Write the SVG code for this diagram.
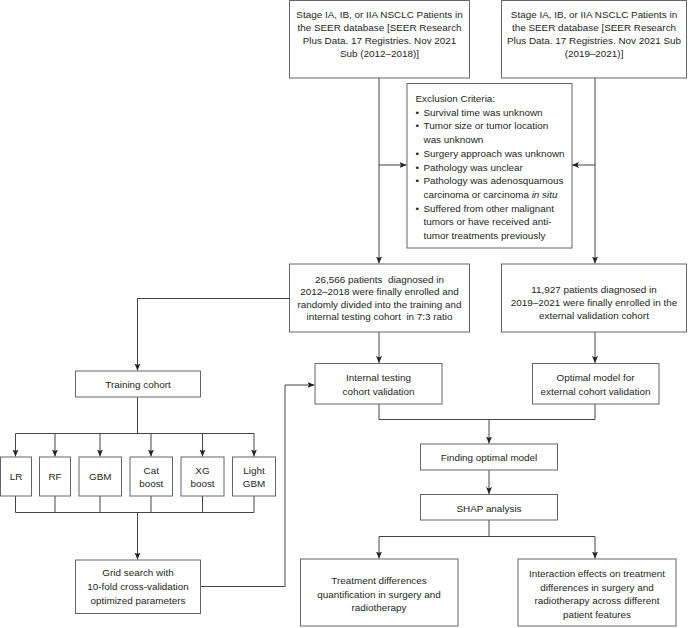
<svg xmlns="http://www.w3.org/2000/svg" width="690" height="628" viewBox="0 0 690 628">
<defs>
<marker id="ah" markerUnits="userSpaceOnUse" markerWidth="8" markerHeight="8" refX="7" refY="3" orient="auto">
<path d="M0,0 L7,3 L0,6 L1.5,3 z" fill="#222"/>
</marker>
<style>
rect{fill:#fff;stroke:#666;stroke-width:1}
text{font-family:"Liberation Sans",Arial,sans-serif;font-size:9.9px;fill:#231f20;white-space:pre}
.c{text-anchor:middle}
#connectors path{fill:none;stroke:#444;stroke-width:1}
.a{marker-end:url(#ah)}
</style>
</defs>
<rect x="0" y="0" width="690" height="628" style="fill:#fff;stroke:none"/>
<g id="connectors">
<path class="a" d="M379,78 V263.5"/>
<path class="a" d="M595,78 V263.5"/>
<path class="a" d="M379,165 H406.5"/>
<path class="a" d="M595,165 H572"/>
<path class="a" d="M289,298.5 H137.5 V370.5"/>
<path class="a" d="M379,332 V363"/>
<path class="a" d="M595,332 V363"/>
<path d="M379,404 V419.5 H595 V404"/>
<path class="a" d="M489,419.5 V443.5"/>
<path class="a" d="M489,470 V494"/>
<path d="M489,520 V536.5 M379,536.5 H595"/>
<path class="a" d="M379,536.5 V558.5"/>
<path class="a" d="M595,536.5 V558.5"/>
<path d="M137.5,397 V433.5 M15.5,433.5 H254"/>
<path class="a" d="M15.5,433.5 V456.5"/>
<path class="a" d="M55,433.5 V456.5"/>
<path class="a" d="M100,433.5 V456.5"/>
<path class="a" d="M151,433.5 V456.5"/>
<path class="a" d="M202.5,433.5 V456.5"/>
<path class="a" d="M254,433.5 V456.5"/>
<path d="M15.5,496 V512.5 H254 V496 M55,496 V512.5 M100,496 V512.5 M151,496 V512.5 M202.5,496 V512.5"/>
<path class="a" d="M137.5,512.5 V559.5"/>
<path class="a" d="M200.5,586.5 H285 V385 H314.5"/>
</g>
<g id="src1">
<rect x="289.5" y="0.5" width="180" height="77.5"/>
<text class="c" x="379.5" y="18">Stage IA, IB, or IIA NSCLC Patients in</text>
<text class="c" x="379.5" y="31">the SEER database [SEER Research</text>
<text class="c" x="379.5" y="44">Plus Data. 17 Registries. Nov 2021</text>
<text class="c" x="379.5" y="57">Sub (2012–2018)]</text>
</g>
<g id="src2">
<rect x="501.5" y="0.5" width="185" height="77.5"/>
<text class="c" x="594" y="18">Stage IA, IB, or IIA NSCLC Patients in</text>
<text class="c" x="594" y="31">the SEER database [SEER Research</text>
<text class="c" x="594" y="44">Plus Data. 17 Registries. Nov 2021 Sub</text>
<text class="c" x="594" y="57">(2019–2021)]</text>
</g>
<g id="exclusion">
<rect x="407" y="83.5" width="165" height="164.5"/>
<text x="415.5" y="102">Exclusion Criteria:</text>
<text x="415.5" y="115.7">•</text><text x="423.5" y="115.7">Survival time was unknown</text>
<text x="415.5" y="129.4">•</text><text x="423.5" y="129.4">Tumor size or tumor location</text>
<text x="423.5" y="143.1">was unknown</text>
<text x="415.5" y="156.8">•</text><text x="423.5" y="156.8">Surgery approach was unknown</text>
<text x="415.5" y="170.5">•</text><text x="423.5" y="170.5">Pathology was unclear</text>
<text x="415.5" y="184.2">•</text><text x="423.5" y="184.2">Pathology was adenosquamous</text>
<text x="423.5" y="197.9">carcinoma or carcinoma <tspan font-style="italic">in situ</tspan></text>
<text x="415.5" y="211.6">•</text><text x="423.5" y="211.6">Suffered from other malignant</text>
<text x="423.5" y="225.3">tumors or have received anti-</text>
<text x="423.5" y="239">tumor treatments previously</text>
</g>
<g id="enrolled">
<rect x="289.5" y="264" width="180" height="68"/>
<text class="c" x="379.5" y="282.5">26,566 patients  diagnosed in</text>
<text class="c" x="379.5" y="295.1">2012–2018 were finally enrolled and</text>
<text class="c" x="379.5" y="307.7">randomly divided into the training and</text>
<text class="c" x="379.5" y="320.3">internal testing cohort  in 7:3 ratio</text>
</g>
<g id="external">
<rect x="501.5" y="264" width="185" height="68"/>
<text class="c" x="594" y="292.8">11,927 patients diagnosed in</text>
<text class="c" x="594" y="306">2019–2021 were finally enrolled in the</text>
<text class="c" x="594" y="318.8">external validation cohort</text>
</g>
<g id="training">
<rect x="75.5" y="371" width="125" height="26"/>
<text class="c" x="138" y="387.5">Training cohort</text>
</g>
<g id="internal">
<rect x="315" y="363.5" width="127" height="40.5"/>
<text class="c" x="378.5" y="381.2">Internal testing</text>
<text class="c" x="378.5" y="395.2">cohort validation</text>
</g>
<g id="optimal">
<rect x="532.5" y="363.5" width="126.5" height="40.5"/>
<text class="c" x="595.5" y="381.2">Optimal model for</text>
<text class="c" x="595.5" y="395.2">external cohort validation</text>
</g>
<g id="finding">
<rect x="420.5" y="444" width="137" height="26"/>
<text class="c" x="489" y="460.8">Finding optimal model</text>
</g>
<g id="shap">
<rect x="420.5" y="494.5" width="137" height="25.5"/>
<text class="c" x="489" y="511.8">SHAP analysis</text>
</g>
<g id="lr">
<rect x="0.5" y="457" width="31" height="39"/>
<text class="c" x="16" y="480.2">LR</text>
</g>
<g id="rf">
<rect x="39.5" y="457" width="31" height="39"/>
<text class="c" x="55" y="480.2">RF</text>
</g>
<g id="gbm">
<rect x="79" y="457" width="42.5" height="39"/>
<text class="c" x="100.3" y="480.2">GBM</text>
</g>
<g id="catboost">
<rect x="130" y="457" width="42.5" height="39"/>
<text class="c" x="151.3" y="473.5">Cat</text>
<text class="c" x="151.3" y="486.8">boost</text>
</g>
<g id="xgboost">
<rect x="181" y="457" width="43" height="39"/>
<text class="c" x="202.5" y="473.5">XG</text>
<text class="c" x="202.5" y="486.8">boost</text>
</g>
<g id="lightgbm">
<rect x="232.5" y="457" width="43" height="39"/>
<text class="c" x="254" y="473.5">Light</text>
<text class="c" x="254" y="486.8">GBM</text>
</g>
<g id="grid">
<rect x="75.5" y="560" width="125" height="53.5"/>
<text class="c" x="138" y="576.2">Grid search with</text>
<text class="c" x="138" y="590">10-fold cross-validation</text>
<text class="c" x="138" y="603.8">optimized parameters</text>
</g>
<g id="treatment">
<rect x="300.5" y="559" width="157.5" height="67"/>
<text class="c" x="379" y="584">Treatment differences</text>
<text class="c" x="379" y="597.5">quantification in surgery and</text>
<text class="c" x="379" y="611">radiotherapy</text>
</g>
<g id="interaction">
<rect x="518" y="559" width="158" height="67"/>
<text class="c" x="597" y="577">Interaction effects on treatment</text>
<text class="c" x="597" y="590.5">differences in surgery and</text>
<text class="c" x="597" y="604">radiotherapy across different</text>
<text class="c" x="597" y="617.5">patient features</text>
</g>
</svg>
